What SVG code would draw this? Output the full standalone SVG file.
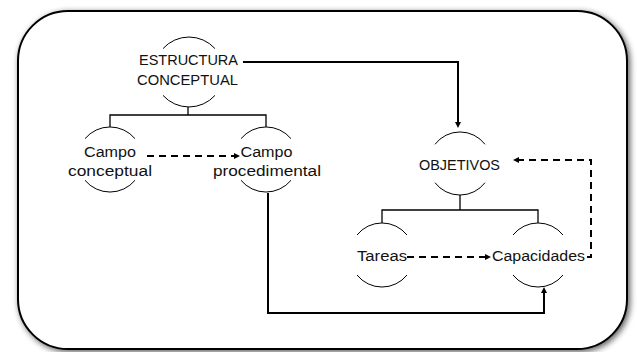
<svg xmlns="http://www.w3.org/2000/svg" width="637" height="352" viewBox="0 0 637 352">
  <defs>
    <filter id="shadow" x="-5%" y="-5%" width="110%" height="110%">
      <feGaussianBlur in="SourceAlpha" stdDeviation="3"/>
      <feOffset dx="1.5" dy="1.5" result="b"/>
      <feComponentTransfer in="b" result="s">
        <feFuncA type="linear" slope="0.65"/>
      </feComponentTransfer>
      <feMerge>
        <feMergeNode in="s"/>
        <feMergeNode in="SourceGraphic"/>
      </feMerge>
    </filter>
    <marker id="arrow" viewBox="0 0 6 6" refX="3" refY="3" markerWidth="6" markerHeight="6" markerUnits="userSpaceOnUse" orient="auto">
      <path d="M0,0 L6,3 L0,6 z" fill="#000"/>
    </marker>
  </defs>
  <style>
    .frame { fill: #fff; stroke: #000; stroke-width: 2; }
    .arc { fill: none; stroke: #000; stroke-width: 1; }
    .tree { fill: none; stroke: #000; stroke-width: 1.3; }
    .conn { fill: none; stroke: #000; stroke-width: 2; marker-end: url(#arrow); }
    .dash { stroke-dasharray: 7 5; }
    text { font-family: "Liberation Sans", Arial, sans-serif; font-size: 15.5px; fill: #111; text-anchor: middle; }
  </style>

  <rect class="frame" x="18" y="11" width="609" height="338" rx="50" ry="50" filter="url(#shadow)"/>

  <g id="tree-lines">
    <path class="tree" d="M188,107 V115 M110,127 V115 H266 V127"/>
    <path class="tree" d="M460,195 V210 M382,223 V210 H538 V223"/>
  </g>

  <g id="node-estructura">
    <path class="arc" d="M163,48.6 A35,35 0 0 1 215,48.6"/>
    <path class="arc" d="M163,95.4 A35,35 0 0 0 215,95.4"/>
    <text x="188.5" y="65" textLength="99" lengthAdjust="spacingAndGlyphs">ESTRUCTURA</text>
    <text x="187.5" y="85" textLength="101" lengthAdjust="spacingAndGlyphs">CONCEPTUAL</text>
  </g>

  <g id="node-campo-conceptual">
    <path class="arc" d="M85,138.7 A32.5,32.5 0 0 1 135,138.7"/>
    <path class="arc" d="M85,180.3 A32.5,32.5 0 0 0 135,180.3"/>
    <text x="110" y="157" textLength="52" lengthAdjust="spacingAndGlyphs">Campo</text>
    <text x="110" y="176" textLength="84" lengthAdjust="spacingAndGlyphs">conceptual</text>
  </g>

  <g id="node-campo-procedimental">
    <path class="arc" d="M241,138.7 A32.5,32.5 0 0 1 291,138.7"/>
    <path class="arc" d="M241,180.3 A32.5,32.5 0 0 0 291,180.3"/>
    <text x="266.5" y="157" textLength="52" lengthAdjust="spacingAndGlyphs">Campo</text>
    <text x="267" y="176" textLength="108" lengthAdjust="spacingAndGlyphs">procedimental</text>
  </g>

  <g id="node-objetivos">
    <path class="arc" d="M435,144.3 A31.5,31.5 0 0 1 485,144.3"/>
    <path class="arc" d="M435,182.7 A31.5,31.5 0 0 0 485,182.7"/>
    <text x="459.5" y="169.5" textLength="81" lengthAdjust="spacingAndGlyphs">OBJETIVOS</text>
  </g>

  <g id="node-tareas">
    <path class="arc" d="M357,235 A32,32 0 0 1 407,235"/>
    <path class="arc" d="M357,275 A32,32 0 0 0 407,275"/>
    <text x="382" y="261" textLength="50" lengthAdjust="spacingAndGlyphs">Tareas</text>
  </g>

  <g id="node-capacidades">
    <path class="arc" d="M513,235 A32,32 0 0 1 563,235"/>
    <path class="arc" d="M513,275 A32,32 0 0 0 563,275"/>
    <text x="538.5" y="261" textLength="93" lengthAdjust="spacingAndGlyphs">Capacidades</text>
  </g>

  <g id="connectors">
    <path class="conn" d="M243,62 H458 V125"/>
    <path class="conn" d="M268,193 V313 H544 V290"/>
    <path class="conn dash" d="M147,156 H237"/>
    <path class="conn dash" d="M407,257 H488"/>
    <path class="conn dash" d="M587,257 H591 V160 H516"/>
  </g>
</svg>
